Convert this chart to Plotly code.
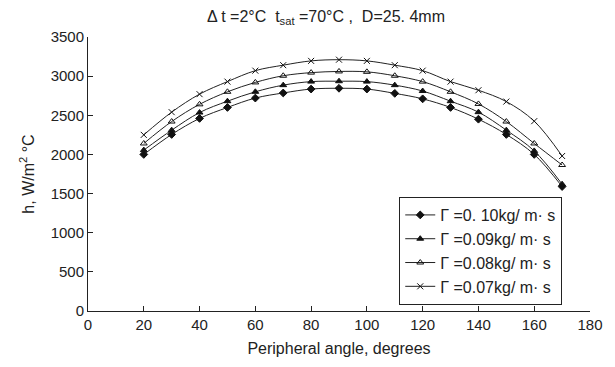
import plotly.graph_objects as go

angles = [20, 30, 40, 50, 60, 70, 80, 90, 100, 110, 120, 130, 140, 150, 160, 170]
h_010 = [2000, 2255, 2460, 2600, 2720, 2785, 2835, 2845, 2835, 2780, 2710, 2600, 2450, 2255, 2000, 1590]
h_009 = [2055, 2310, 2535, 2680, 2800, 2885, 2930, 2935, 2930, 2885, 2810, 2680, 2540, 2310, 2045, 1620]
h_008 = [2140, 2420, 2640, 2800, 2920, 3005, 3045, 3060, 3055, 3005, 2930, 2800, 2645, 2420, 2140, 1865]
h_007 = [2250, 2540, 2770, 2930, 3070, 3140, 3195, 3210, 3195, 3140, 3070, 2930, 2820, 2675, 2425, 1980]

series = [
    ("Γ =0. 10kg/ m· s", h_010, "diamond"),
    ("Γ =0.09kg/ m· s", h_009, "triangle-up"),
    ("Γ =0.08kg/ m· s", h_008, "triangle-up-open"),
    ("Γ =0.07kg/ m· s", h_007, "x-thin-open"),
]

fig = go.Figure()
for name, ys, sym in series:
    fig.add_trace(go.Scatter(
        x=angles, y=ys, name=name, mode="lines+markers",
        line=dict(color="#222222", width=1, shape="spline"),
        marker=dict(symbol=sym, size=6, color="#111111",
                    line=dict(color="#111111", width=1)),
    ))

font = "Liberation Sans, Arial, sans-serif"
fig.update_layout(
    width=615, height=367,
    margin=dict(l=88, r=19, t=37, b=56),
    paper_bgcolor="white", plot_bgcolor="white",
    font=dict(family=font, size=15, color="#222222"),
    title=dict(text="Δ t =2°C  t<sub>sat</sub> =70°C ,  D=25. 4mm",
               x=0.53, xanchor="center", y=0.955, yanchor="middle",
               font=dict(size=16)),
    showlegend=True,
    legend=dict(x=0.62, y=0.416, xanchor="left", yanchor="top",
                bordercolor="#222222", borderwidth=1, bgcolor="white",
                font=dict(size=16), tracegroupgap=0, itemwidth=30),
    xaxis=dict(range=[0, 180], dtick=20, tick0=0, showgrid=False, zeroline=False,
               showline=True, linecolor="#222222", linewidth=1,
               ticks="inside", ticklen=5, tickcolor="#222222",
               tickfont=dict(size=15),
               title=dict(text="Peripheral angle, degrees", standoff=10,
                          font=dict(size=16))),
    yaxis=dict(range=[0, 3500], dtick=500, tick0=0, showgrid=False, zeroline=False,
               showline=True, linecolor="#222222", linewidth=1,
               ticks="inside", ticklen=5, tickcolor="#222222",
               tickfont=dict(size=15),
               title=dict(text="h, W/m<sup>2</sup> °C", standoff=12,
                          font=dict(size=16))),
)

fig.write_html("out.html")
